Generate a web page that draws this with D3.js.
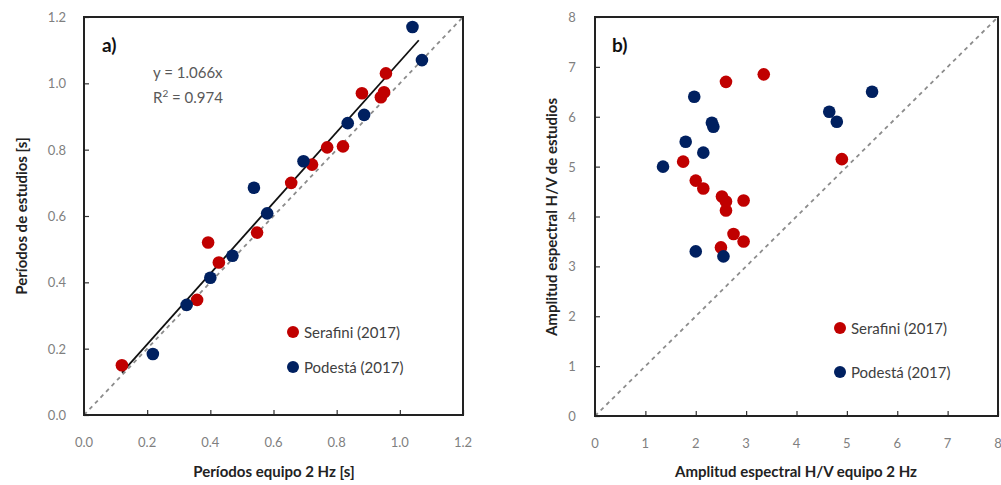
<!DOCTYPE html>
<html><head><meta charset="utf-8">
<script src="https://cdn.jsdelivr.net/npm/d3@7"></script>
<style>body{margin:0;background:#fff}svg{display:block}text{font-family:"Lato","Open Sans",sans-serif}</style>
</head><body><svg id="c" width="1001" height="485"></svg>
<script>
// Panel a) periods
const serafiniA_x = [0.12,0.358,0.393,0.427,0.548,0.656,0.722,0.77,0.82,0.88,0.94,0.95,0.956];
const serafiniA_y = [0.15,0.347,0.52,0.46,0.55,0.70,0.755,0.807,0.81,0.97,0.958,0.973,1.03];
const podestaA_x = [0.218,0.325,0.40,0.47,0.538,0.58,0.695,0.835,0.887,1.04,1.07];
const podestaA_y = [0.184,0.332,0.414,0.48,0.685,0.608,0.765,0.88,0.905,1.17,1.07];
const ticksA = [0,0.2,0.4,0.6,0.8,1.0,1.2];
const slopeA = 1.066;
// Panel b) amplitudes
const serafiniB_x = [2.6,3.35,1.75,4.9,2.0,2.15,2.52,2.6,2.95,2.6,2.75,2.95,2.5];
const serafiniB_y = [6.7,6.85,5.1,5.15,4.72,4.56,4.4,4.3,4.32,4.12,3.65,3.5,3.38];
const podestaB_x = [1.97,2.32,2.35,1.8,2.15,1.35,4.65,4.8,5.5,2.0,2.55];
const podestaB_y = [6.4,5.88,5.8,5.5,5.28,5.0,6.1,5.9,6.5,3.3,3.2];
const ticksB = [0,1,2,3,4,5,6,7,8];
const seriesNames = ["Serafini (2017)","Podestá (2017)"];
const colors = ["#C00000","#002060"];

const svg = d3.select("#c");

function panel(o){
  const x = d3.scaleLinear().domain(o.dom).range([o.x0,o.x1]);
  const y = d3.scaleLinear().domain(o.dom).range([o.y1,o.y0]);
  const g = svg.append("g");
  // 1:1 dashed
  g.append("line").attr("x1",x(o.dom[0])).attr("y1",y(o.dom[0])).attr("x2",x(o.dom[1])).attr("y2",y(o.dom[1]))
    .attr("stroke","#8c8c8c").attr("stroke-width",1.8).attr("stroke-dasharray","4,4");
  // axes ticks inward
  const xa = d3.axisTop(x).tickValues(o.ticks).tickSize(5).tickFormat("");
  const ya = d3.axisRight(y).tickValues(o.ticks).tickSize(5).tickFormat("");
  g.append("g").attr("transform",`translate(0,${o.y1})`).call(xa).call(s=>{s.select(".domain").remove();s.selectAll("line").attr("stroke","#333").attr("stroke-width",1.2);});
  g.append("g").attr("transform",`translate(${o.x0},0)`).call(ya).call(s=>{s.select(".domain").remove();s.selectAll("line").attr("stroke","#333").attr("stroke-width",1.2);});
  // tick labels
  g.selectAll(".xl").data(o.ticks).join("text").attr("x",d=>x(d)).attr("y",o.y1+32)
    .attr("text-anchor","middle").attr("font-size",13).attr("fill","#7f7f7f").text(o.fmt);
  g.selectAll(".yl").data(o.ticks).join("text").attr("x",o.ylx).attr("y",d=>y(d)+5)
    .attr("text-anchor",o.ylAnchor).attr("font-size",13).attr("fill","#7f7f7f").text(o.fmt);
  // frame
  g.append("rect").attr("x",o.x0).attr("y",o.y0).attr("width",o.x1-o.x0).attr("height",o.y1-o.y0)
    .attr("fill","none").attr("stroke","#222").attr("stroke-width",2);
  return {x,y,g};
}

function dots(p, xs, ys, c){
  p.g.selectAll(null).data(xs.map((d,i)=>[d,ys[i]])).join("circle")
    .attr("cx",d=>p.x(d[0])).attr("cy",d=>p.y(d[1])).attr("r",6.3).attr("fill",c);
}

function legend(p, lx, ly, gap){
  seriesNames.forEach((n,i)=>{
    p.g.append("circle").attr("cx",lx).attr("cy",ly+i*gap).attr("r",6).attr("fill",colors[i]);
    p.g.append("text").attr("x",lx+11).attr("y",ly+i*gap+5.5).attr("font-size",15).attr("fill","#404040").text(n);
  });
}

// Panel a
const pa = panel({dom:[0,1.2],x0:84,x1:463,y0:17,y1:415,ticks:ticksA,fmt:d3.format(".1f"),ylx:66,ylAnchor:"end"});
// regression line
const allAx = serafiniA_x.concat(podestaA_x);
const xmin = d3.min(allAx), xmax = d3.max(allAx)-0.01;
pa.g.append("line").attr("x1",pa.x(xmin)).attr("y1",pa.y(slopeA*xmin)).attr("x2",pa.x(xmax)).attr("y2",pa.y(slopeA*xmax))
  .attr("stroke","#111").attr("stroke-width",1.8);
dots(pa, serafiniA_x, serafiniA_y, colors[0]);
dots(pa, podestaA_x, podestaA_y, colors[1]);
legend(pa, 293, 332, 35);
pa.g.append("text").attr("x",102).attr("y",52).attr("font-size",19).attr("font-weight","bold").attr("fill","#111").text("a)");
pa.g.append("text").attr("x",153).attr("y",78).attr("font-size",15).attr("fill","#595959").text("y = 1.066x");
const r2 = pa.g.append("text").attr("x",153).attr("y",103).attr("font-size",15).attr("fill","#595959");
r2.append("tspan").text("R");
r2.append("tspan").attr("font-size",10).attr("dy",-6).text("2");
r2.append("tspan").attr("dy",6).text(" = 0.974");
svg.append("text").attr("x",274).attr("y",477).attr("text-anchor","middle").attr("font-size",15).attr("font-weight","bold").attr("fill","#222").text("Períodos equipo 2 Hz [s]");
svg.append("text").attr("transform","translate(27,216) rotate(-90)").attr("text-anchor","middle").attr("font-size",15).attr("font-weight","bold").attr("fill","#222").text("Períodos de estudios [s]");

// Panel b
const pb = panel({dom:[0,8],x0:595,x1:998,y0:17,y1:416,ticks:ticksB,fmt:d3.format("d"),ylx:572,ylAnchor:"middle"});
dots(pb, serafiniB_x, serafiniB_y, colors[0]);
dots(pb, podestaB_x, podestaB_y, colors[1]);
legend(pb, 840, 328, 44);
pb.g.append("text").attr("x",612).attr("y",52).attr("font-size",19).attr("font-weight","bold").attr("fill","#111").text("b)");
svg.append("text").attr("x",796).attr("y",477).attr("text-anchor","middle").attr("font-size",15).attr("font-weight","bold").attr("fill","#222").text("Amplitud espectral H/V equipo 2 Hz");
svg.append("text").attr("transform","translate(557,217) rotate(-90)").attr("text-anchor","middle").attr("font-size",15).attr("font-weight","bold").attr("fill","#222").text("Amplitud espectral H/V de estudios");
</script></body></html>
